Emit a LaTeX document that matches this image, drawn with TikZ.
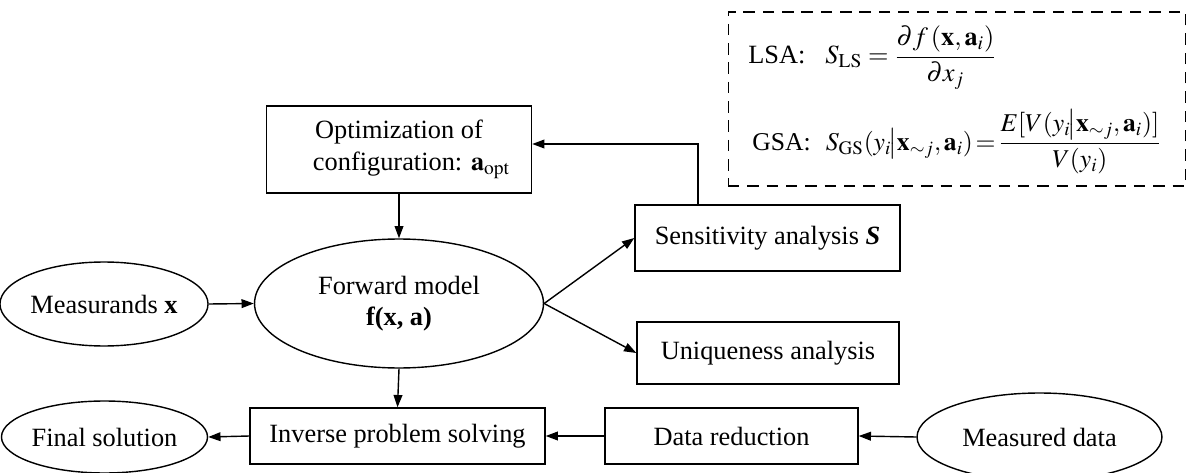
\documentclass[tikz,border=0pt]{standalone}
\usepackage{mathptmx}
\usepackage[no-math]{fontspec}
\setmainfont{Liberation Serif}
\usepackage{amsmath}
\usepackage{tikz}
\usetikzlibrary{shapes.geometric, arrows.meta, positioning}

\begin{document}
\begin{tikzpicture}[
    x=0.02cm, y=-0.02cm,
    font=\fontsize{15}{18}\selectfont,
    box/.style={rectangle, draw, line width=0.8pt, inner sep=0pt, align=center},
    oval/.style={ellipse, draw, line width=0.8pt, inner sep=0pt, align=center},
    arr/.style={-{Triangle[length=7pt,width=5pt]}, line width=0.8pt},
]
\useasboundingbox (0,0) rectangle (1187,473);

% Top row
\node[box, minimum width=5.3cm, minimum height=1.74cm] (opt) at (399,149.5)
      {Optimization of\\ \hspace*{0.5cm}configuration: $\mathbf{a}_{\mathrm{opt}}$};
\node[draw, dashed, dash pattern=on 6.5pt off 4.5pt, line width=0.6pt,
      minimum width=9.16cm, minimum height=3.48cm] (sabox) at (957,99) {};
\node[anchor=west, inner sep=0pt] (lsa) at (748,58)
      {LSA:\hspace{0.4cm}$S_{\mathrm{LS}} = \dfrac{\partial f\,(\mathbf{x},\mathbf{a}_i)}{\partial x_j}$};
\node[anchor=west, inner sep=0pt, font=\fontsize{14.6}{17}\selectfont] (gsa) at (752,142)
      {GSA:\hspace{0.3cm}$S_{\mathrm{GS}}(y_i\!\big|\mathbf{x}_{\sim j},\mathbf{a}_i)\!=\!\dfrac{E[V(y_i\!\big|\mathbf{x}_{\sim j},\mathbf{a}_i)]}{V(y_i)}$};

% Middle row
\node[oval, minimum width=3.8cm, minimum height=1.68cm] (meas) at (104,304)
      {Measurands \textbf{x}};
\node[oval, minimum width=5.78cm, minimum height=2.58cm] (fwd) at (399,303.5)
      {Forward model\\ \textbf{f(x, a)}};
\node[box, minimum width=5.3cm, minimum height=1.32cm] (sens) at (767.5,238)
      {Sensitivity analysis \textbf{\textit{S}}};
\node[box, minimum width=5.24cm, minimum height=1.24cm] (uniq) at (768,353)
      {Uniqueness analysis};

% Bottom row
\node[oval, minimum width=3.7cm, minimum height=1.44cm] (final) at (104.5,437)
      {Final solution};
\node[box, minimum width=5.9cm, minimum height=1.12cm] (inv) at (397.5,436)
      {Inverse problem solving};
\node[box, minimum width=5.06cm, minimum height=1.12cm] (dred) at (731.5,436)
      {Data reduction};
\node[oval, minimum width=4.9cm, minimum height=1.76cm] (mdata) at (1039.5,437)
      {Measured data};

% Arrows
\draw[arr] (meas.east) -- (fwd.west);
\draw[arr] (opt.south) -- (fwd.north);
\draw[arr] (fwd.east) -- (sens.west);
\draw[arr] (fwd.east) -- (uniq.west);
\draw[arr] ([xshift=-1.39cm]sens.north) |- ([yshift=0.11cm]opt.east);
\draw[arr] (fwd.south) -- (inv.north);
\draw[arr] (inv.west) -- (final.east);
\draw[arr] (dred.west) -- (inv.east);
\draw[arr] (mdata.west) -- (dred.east);

\end{tikzpicture}
\end{document}
